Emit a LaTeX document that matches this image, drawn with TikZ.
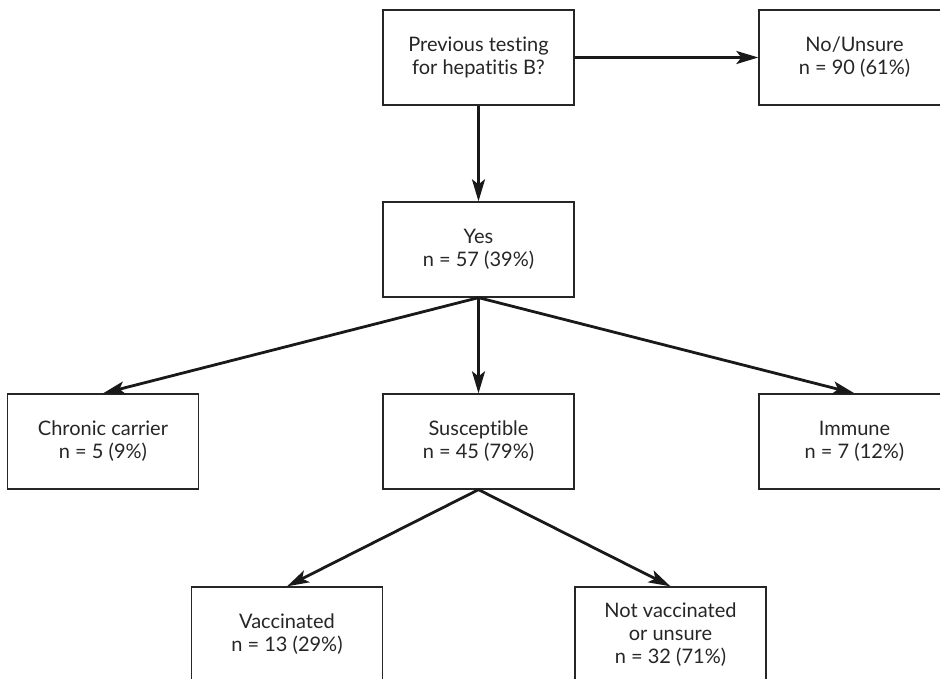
\documentclass[tikz,border=0pt]{standalone}
\usepackage{fontspec}
\setmainfont{Lato}[Ligatures=NoCommon]
\usetikzlibrary{arrows.meta}

\begin{document}
\begin{tikzpicture}[x=1pt,y=-1pt]
			\clip (0,0) rectangle (940,678);
			\fill[white] (0,0) rectangle (940,678);
			\begin{scope}[every node/.style={rectangle,draw=black!85,line width=1.3pt,minimum width=191pt,minimum height=95pt,align=center,font=\fontsize{20}{23}\selectfont,text=black!85}]
				\node (prev) at (478.5,57.5) {Previous testing\\for hepatitis B?};
				\node (nounsure) at (854.5,57.5) {No/Unsure\\n = 90 (61\%)};
				\node (yes) at (478.5,249.5) {Yes\\n = 57 (39\%)};
				\node (chronic) at (103,441.5) {Chronic carrier\\n = 5 (9\%)};
				\node (suscept) at (478.5,441.5) {Susceptible\\n = 45 (79\%)};
				\node (immune) at (854.5,441.5) {Immune\\n = 7 (12\%)};
				\node (vacc) at (287,634.5) {Vaccinated\\n = 13 (29\%)};
				\node (notvacc) at (670.5,634.5) {Not vaccinated\\or unsure\\n = 32 (71\%)};
			\end{scope}
			
			\begin{scope}[every edge/.style={draw=black!90,line width=2.8pt,-{Stealth[length=22pt,width=13pt,inset=5pt]}}]
				\path (prev) edge (nounsure);
				\path (prev) edge (yes);
				\path (yes.south) edge (chronic.north);
				\path (yes.south) edge (suscept.north);
				\path (yes.south) edge (immune.north);
				\path (suscept.south) edge (vacc.north);
				\path (suscept.south) edge (notvacc.north);
			\end{scope}
		\end{tikzpicture}
\end{document}
